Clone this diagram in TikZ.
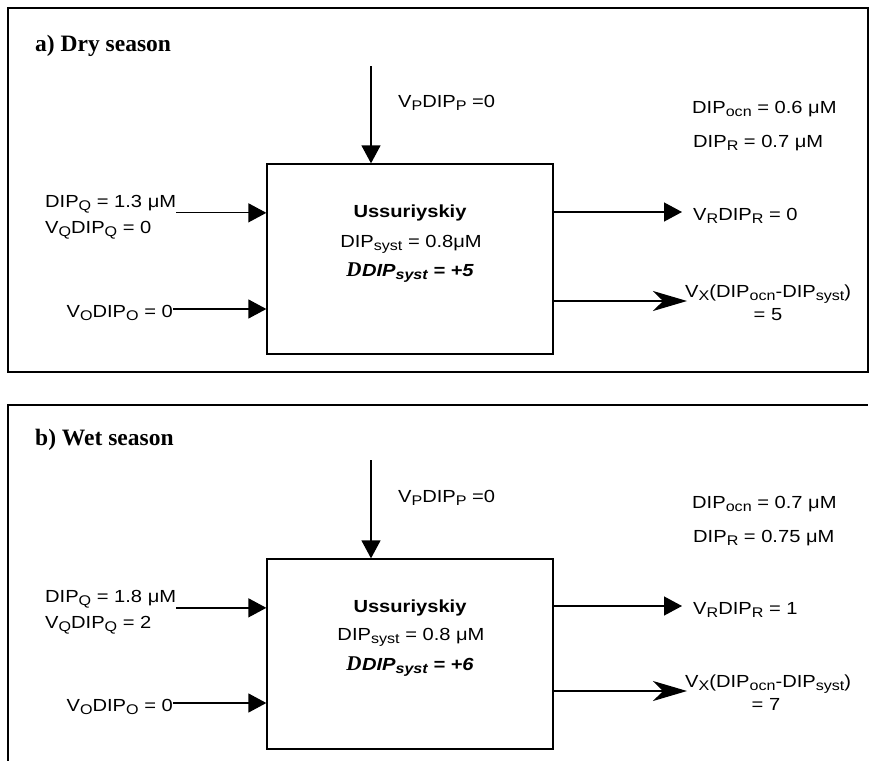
\documentclass[tikz,border=0pt]{standalone}
\usepackage{fontspec}
\setmainfont{Liberation Sans}[FakeStretch=1.15]
\newfontfamily\serifbf{Liberation Serif}
\usetikzlibrary{arrows.meta,positioning}
\newcommand{\sbs}[1]{\raisebox{-3pt}{\fontsize{14}{15}\selectfont #1}}
\newcommand{\dlt}{{\serifbf\bfseries\itshape\fontsize{21}{21}\selectfont D}\kern0.5pt}

\begin{document}
\begin{tikzpicture}[x=1pt,y=-1pt,
    lbl/.style={inner sep=0pt,font=\fontsize{17.5}{20}\selectfont},
    ttl/.style={inner sep=0pt,font=\serifbf\bfseries\fontsize{23.5}{25}\selectfont},
    stn/.style={inner sep=0pt,font=\bfseries\fontsize{17.5}{20}\selectfont},
    dlbl/.style={inner sep=0pt,font=\bfseries\itshape\fontsize{17.5}{20}\selectfont},
    sysbox/.style={draw,line width=1.3pt,minimum width=286pt,minimum height=190pt,inner sep=0pt},
    frame/.style={draw,line width=1.3pt},
    flow/.style={line width=1.3pt,-{Triangle[length=18pt,width=19pt]}},
    exch/.style={line width=1.3pt,-{Stealth[length=34pt,width=20pt,inset=10pt]}}]
  \useasboundingbox (0,0) rectangle (869,760);

  % a) dry season
  \draw[frame] (8,8) rectangle (868,372);
  \node[ttl,anchor=base west] (ttlA) at (35,52) {a) Dry season};
  \node[sysbox] (boxA) at (410,259) {};
  \node[stn,anchor=base] (nameA) at (410,217) {Ussuriyskiy};
  \node[lbl,anchor=base] (concA) at (411,247) {DIP\sbs{syst} = 0.8μM};
  \node[dlbl,anchor=base] (dA) at (410,276) {\dlt DIP\sbs{syst} = +5};
  \coordinate (pA) at (371,66);
  \draw[flow] (pA) -- (pA |- boxA.north);
  \node[lbl,anchor=base west] (pLabA) at (398,107) {V\sbs{P}DIP\sbs{P} =0};
  \node[lbl,anchor=base west] (ocnA) at (692,113) {DIP\sbs{ocn} = 0.6 μM};
  \node[lbl,anchor=base west] (rivA) at (693,147) {DIP\sbs{R} = 0.7 μM};
  \node[lbl,anchor=base west] (qA) at (45,207) {DIP\sbs{Q} = 1.3 μM};
  \node[lbl,anchor=base west] (qfA) at (45,233) {V\sbs{Q}DIP\sbs{Q} = 0};
  \draw[flow] (qA.south east) -- (qA.south east -| boxA.west);
  \node[lbl,anchor=base east] (oA) at (173,317) {V\sbs{O}DIP\sbs{O} = 0};
  \draw[flow] ([yshift=8pt]oA.base east) -- ([yshift=8pt]oA.base east -| boxA.west);
  \node[lbl,anchor=base west] (rA) at (693,220) {V\sbs{R}DIP\sbs{R} = 0};
  \coordinate (rinA) at ([xshift=-11pt,yshift=8pt]rA.base west);
  \draw[flow] (rinA -| boxA.east) -- (rinA);
  \node[lbl,anchor=base west] (xA) at (685,297) {V\sbs{X}(DIP\sbs{ocn}-DIP\sbs{syst})};
  \node[lbl,anchor=base] (xvA) at (768,320) {= 5};
  \coordinate (xinA) at ([xshift=2pt,yshift=-4pt]xA.base west);
  \draw[exch] (xinA -| boxA.east) -- (xinA);

  % b) wet season
  \begin{scope}[yshift=-394pt]
  \draw[frame] (8,372) |- (868,11);
  \node[ttl,anchor=base west] (ttlB) at (35,51) {b) Wet season};
  \node[sysbox] (boxB) at (410,260) {};
  \node[stn,anchor=base] (nameB) at (410,218) {Ussuriyskiy};
  \node[lbl,anchor=base] (concB) at (411,246) {DIP\sbs{syst} = 0.8 μM};
  \node[dlbl,anchor=base] (dB) at (410,276) {\dlt DIP\sbs{syst} = +6};
  \coordinate (pB) at (371,66);
  \draw[flow] (pB) -- (pB |- boxB.north);
  \node[lbl,anchor=base west] (pLabB) at (398,108) {V\sbs{P}DIP\sbs{P} =0};
  \node[lbl,anchor=base west] (ocnB) at (692,114) {DIP\sbs{ocn} = 0.7 μM};
  \node[lbl,anchor=base west] (rivB) at (693,148) {DIP\sbs{R} = 0.75 μM};
  \node[lbl,anchor=base west] (qB) at (45,208) {DIP\sbs{Q} = 1.8 μM};
  \node[lbl,anchor=base west] (qfB) at (45,234) {V\sbs{Q}DIP\sbs{Q} = 2};
  \draw[flow] (qB.south east) -- (qB.south east -| boxB.west);
  \node[lbl,anchor=base east] (oB) at (173,317) {V\sbs{O}DIP\sbs{O} = 0};
  \draw[flow] ([yshift=8pt]oB.base east) -- ([yshift=8pt]oB.base east -| boxB.west);
  \node[lbl,anchor=base west] (rB) at (693,220) {V\sbs{R}DIP\sbs{R} = 1};
  \coordinate (rinB) at ([xshift=-11pt,yshift=8pt]rB.base west);
  \draw[flow] (rinB -| boxB.east) -- (rinB);
  \node[lbl,anchor=base west] (xB) at (685,293) {V\sbs{X}(DIP\sbs{ocn}-DIP\sbs{syst})};
  \node[lbl,anchor=base] (xvB) at (766,316) {= 7};
  \coordinate (xinB) at ([xshift=2pt,yshift=-4pt]xB.base west);
  \draw[exch] (xinB -| boxB.east) -- (xinB);
  \end{scope}
\end{tikzpicture}
\end{document}
